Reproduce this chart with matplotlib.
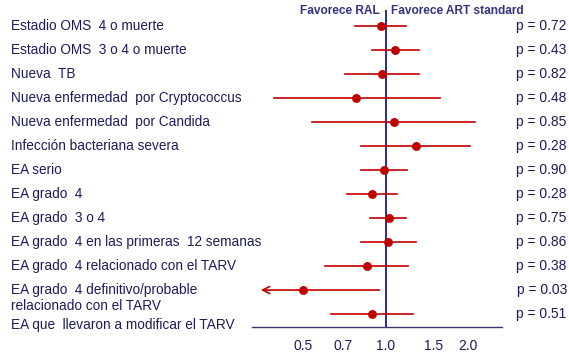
import matplotlib
matplotlib.use("Agg")
import matplotlib.pyplot as plt
import numpy as np

labels = [
    "Estadio OMS  4 o muerte",
    "Estadio OMS  3 o 4 o muerte",
    "Nueva  TB",
    "Nueva enfermedad  por Cryptococcus",
    "Nueva enfermedad  por Candida",
    "Infección bacteriana severa",
    "EA serio",
    "EA grado  4",
    "EA grado  3 o 4",
    "EA grado  4 en las primeras  12 semanas",
    "EA grado  4 relacionado con el TARV",
    "EA grado  4 definitivo/probable\nrelacionado con el TARV",
    "EA que  llevaron a modificar el TARV",
]
point = [0.96, 1.08, 0.97, 0.78, 1.07, 1.29, 0.99, 0.89, 1.03, 1.02, 0.855, 0.50, 0.89]
lower = [0.77, 0.89, 0.71, 0.39, 0.54, 0.81, 0.81, 0.72, 0.88, 0.81, 0.60, 0.35, 0.63]
upper = [1.19, 1.32, 1.32, 1.58, 2.12, 2.03, 1.20, 1.10, 1.19, 1.29, 1.21, 0.95, 1.26]
pvals = ["p = 0.72", "p = 0.43", "p = 0.82", "p = 0.48", "p = 0.85", "p = 0.28",
         "p = 0.90", "p = 0.28", "p = 0.75", "p = 0.86", "p = 0.38", "p = 0.03", "p = 0.51"]
truncated = [False] * 11 + [True, False]
xticks = [0.5, 0.7, 1.0, 1.5, 2.0]
xticklabels = ["0.5", "0.7", "1.0", "1.5", "2.0"]
header_left = "Favorece RAL"
header_right = "Favorece ART standard"

plt.rcParams['font.family'] = ['Liberation Sans', 'DejaVu Sans']
navy = '#1c1c5c'
red = '#c00000'

fig = plt.figure(figsize=(5.69, 3.53), dpi=100)
ax = fig.add_axes([252/569, 1-327/353, (502-252)/569, (327-10)/353])
ax.set_xscale('log')
ax.set_xlim(0.325, 2.66)
ax.set_ylim(13.54, 0.333)

ax.axvline(1.0, color='#1a1a8a', lw=1.3, zorder=1)

ys = np.arange(1, len(labels) + 1)
for y, p, lo, hi, tr in zip(ys, point, lower, upper, truncated):
    if tr:
        ax.annotate('', xy=(lo, y), xytext=(hi, y),
                    arrowprops=dict(arrowstyle='->,head_length=0.5,head_width=0.25',
                                    color=red, lw=1.2, shrinkA=0, shrinkB=0))
    else:
        ax.plot([lo, hi], [y, y], color=red, lw=1.2, zorder=2)
    ax.plot(p, y, 'o', color=red, markersize=5.4, zorder=3)

label_y = list(ys.astype(float))
label_y[11] = 12.33
label_y[12] = 13.45
for ly, lab in zip(label_y, labels):
    ax.text(-0.965, ly, lab, transform=ax.get_yaxis_transform(), ha='left', va='center',
            fontsize=9.8, color=navy, linespacing=1.1)

for y, pv in zip(ys, pvals):
    dx = 0.005 if y == 12 else 0.0
    ax.text(1.055 + dx, y, pv, transform=ax.get_yaxis_transform(), ha='left', va='center',
            fontsize=10, color=navy)

ax.text(0.955, 0.36, header_left, ha='right', va='center', fontsize=8.6,
        fontweight='bold', color='#33337f', clip_on=False)
ax.text(1.045, 0.36, header_right, ha='left', va='center', fontsize=8.6,
        fontweight='bold', color='#33337f', clip_on=False)

for s in ['top', 'right', 'left']:
    ax.spines[s].set_visible(False)
ax.spines['bottom'].set_color('#3a3a6e')
ax.spines['bottom'].set_linewidth(1.0)
ax.set_yticks([])
ax.set_xticks(xticks)
ax.set_xticklabels(xticklabels)
ax.xaxis.set_minor_locator(matplotlib.ticker.NullLocator())
ax.tick_params(axis='x', length=0, pad=9, labelsize=10, labelcolor=navy)

fig.savefig('out.png', dpi=100)
